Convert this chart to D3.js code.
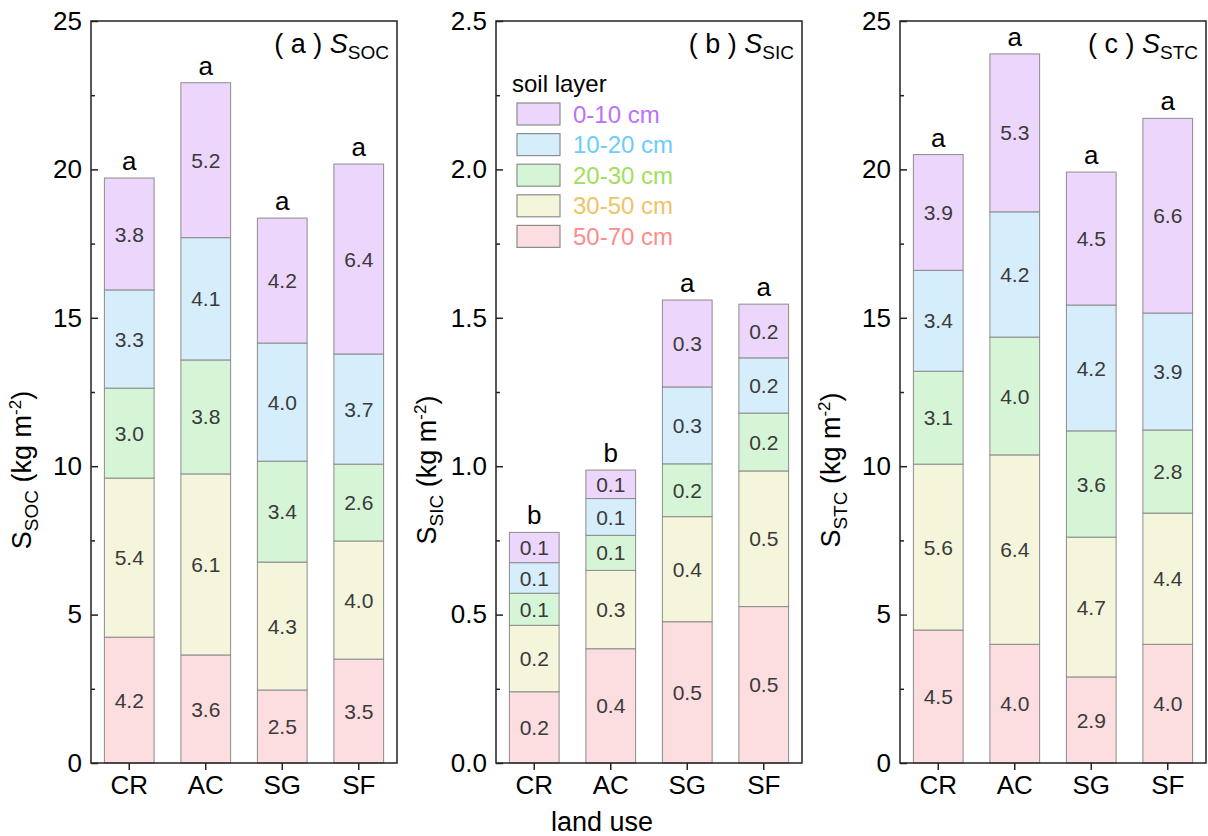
<!DOCTYPE html>
<html><head><meta charset="utf-8">
<script src="https://cdn.jsdelivr.net/npm/d3@7"></script>
<style>body{margin:0;background:#fff}svg{display:block;font-family:"Liberation Sans",Arial,sans-serif}</style>
</head><body><svg id="c" width="1208" height="836"></svg>
<script>
const categories = ["CR","AC","SG","SF"];
const layerNames = ["50-70 cm","30-50 cm","20-30 cm","10-20 cm","0-10 cm"];
const layerFill = ["#fcdde0","#f5f5dc","#d6f5d6","#d6edfc","#ecd6fc"];
const layerText = ["#ff8c8c","#f0c266","#a0e05a","#6cccff","#bb70ff"];
// values per layer (bottom to top), each for CR, AC, SG, SF
const socLayers = [
  [4.24,3.64,2.46,3.50],
  [5.36,6.10,4.31,3.98],
  [3.03,3.84,3.40,2.59],
  [3.31,4.12,3.98,3.71],
  [3.77,5.22,4.21,6.40]];
const sicLayers = [
  [0.240,0.385,0.476,0.527],
  [0.224,0.264,0.354,0.457],
  [0.108,0.118,0.178,0.195],
  [0.103,0.124,0.259,0.186],
  [0.102,0.096,0.293,0.181]];
const stcLayers = [
  [4.48,4.00,2.90,4.00],
  [5.59,6.38,4.71,4.42],
  [3.13,3.97,3.58,2.80],
  [3.40,4.22,4.24,3.94],
  [3.90,5.32,4.48,6.56]];
const socLetters = ["a","a","a","a"];
const sicLetters = ["b","b","a","a"];
const stcLetters = ["a","a","a","a"];
const socTicks = [0,5,10,15,20,25];
const sicTicks = [0,0.5,1.0,1.5,2.0,2.5];
const stcTicks = [0,5,10,15,20,25];

const svg = d3.select("#c");
const Y0 = 21, Y1 = 763;
const FF = "Liberation Sans, Arial, sans-serif";

const panels = [
  {x0:91, x1:397, layers:socLayers, letters:socLetters, ticks:socTicks, max:25, fmt:d3.format("d"), tag:"a", sub:"SOC"},
  {x0:496, x1:802, layers:sicLayers, letters:sicLetters, ticks:sicTicks, max:2.5, fmt:d3.format(".1f"), tag:"b", sub:"SIC"},
  {x0:900, x1:1206, layers:stcLayers, letters:stcLetters, ticks:stcTicks, max:25, fmt:d3.format("d"), tag:"c", sub:"STC"}
];

panels.forEach((p,pi)=>{
  const x = d3.scaleBand().domain(categories).range([p.x0,p.x1]).paddingInner(0.35).paddingOuter(0.175);
  const y = d3.scaleLinear().domain([0,p.max]).range([Y1,Y0]);
  const g = svg.append("g");
  const rows = categories.map((c,i)=>{const o={cat:c}; layerNames.forEach((l,j)=>o[l]=p.layers[j][i]); return o;});
  const stack = d3.stack().keys(layerNames)(rows);
  stack.forEach((s,j)=>{
    const lg = g.append("g");
    lg.selectAll("rect").data(s).join("rect")
      .attr("x",d=>x(d.data.cat)).attr("width",x.bandwidth())
      .attr("y",d=>y(d[1])).attr("height",d=>y(d[0])-y(d[1]))
      .attr("fill",layerFill[j]).attr("stroke","#8c8c8c").attr("stroke-width",1);
    lg.selectAll("text").data(s).join("text")
      .attr("x",d=>x(d.data.cat)+x.bandwidth()/2)
      .attr("y",d=>(y(d[0])+y(d[1]))/2)
      .attr("dy","0.36em").attr("text-anchor","middle")
      .attr("font-size",21).attr("fill","#3a3a3a")
      .text(d=>d3.format(".1f")(d[1]-d[0]));
  });
  const tops = stack[stack.length-1];
  g.selectAll("text.let").data(tops).join("text").attr("class","let")
    .attr("x",d=>x(d.data.cat)+x.bandwidth()/2).attr("y",d=>y(d[1])-8)
    .attr("text-anchor","middle").attr("font-size",26).attr("fill","#000")
    .text((d,i)=>p.letters[i]);

  // frame
  svg.append("rect").attr("x",p.x0).attr("y",Y0).attr("width",p.x1-p.x0).attr("height",Y1-Y0)
    .attr("fill","none").attr("stroke","#222").attr("stroke-width",1.5);
  // y axis major
  const ya = svg.append("g").attr("transform",`translate(${p.x0},0)`)
    .call(d3.axisLeft(y).tickValues(p.ticks).tickFormat(p.fmt).tickSize(-7).tickSizeOuter(0).tickPadding(9));
  ya.select(".domain").remove();
  ya.selectAll("text").attr("font-size",26).attr("fill","#000").attr("font-family",FF);
  ya.selectAll("line").attr("stroke","#222").attr("stroke-width",1.5);
  const minor = p.ticks.slice(0,-1).map((t,i)=>(t+p.ticks[i+1])/2);
  const ym = svg.append("g").attr("transform",`translate(${p.x0},0)`)
    .call(d3.axisLeft(y).tickValues(minor).tickFormat("").tickSize(-4).tickSizeOuter(0));
  ym.select(".domain").remove();
  ym.selectAll("line").attr("stroke","#222").attr("stroke-width",1.5);
  // x axis
  const xa = svg.append("g").attr("transform",`translate(0,${Y1})`)
    .call(d3.axisBottom(x).tickSize(7).tickSizeOuter(0).tickPadding(6));
  xa.select(".domain").remove();
  xa.selectAll("text").attr("font-size",26).attr("fill","#000").attr("font-family",FF);
  xa.selectAll("line").attr("stroke","#222").attr("stroke-width",1.5);

  // panel title
  const t = svg.append("text").attr("x",p.x1-8).attr("y",53).attr("text-anchor","end").attr("font-size",27).attr("fill","#000");
  t.append("tspan").text(`( ${p.tag} ) `);
  t.append("tspan").attr("font-style","italic").text("S");
  t.append("tspan").attr("font-size",19).attr("dy",6).text(p.sub);

  // y label
  const lx = p.x0 - 60, ly = 470;
  const yl = svg.append("text").attr("transform",`translate(${lx},${ly}) rotate(-90)`)
    .attr("text-anchor","middle").attr("font-size",27).attr("fill","#000");
  yl.append("tspan").text("S");
  yl.append("tspan").attr("font-size",19).attr("dy",7).text(p.sub);
  yl.append("tspan").attr("dy",-7).text(" (kg m");
  yl.append("tspan").attr("font-size",17).attr("dy",-10).text("-2");
  yl.append("tspan").attr("dy",10).text(")");
});

// x label
svg.append("text").attr("x",602).attr("y",831).attr("text-anchor","middle").attr("font-size",27).attr("fill","#000").text("land use");

// legend
const lgX = 517, lgY = 103;
const leg = svg.append("g");
leg.append("text").attr("x",lgX-5).attr("y",92).attr("font-size",24).attr("fill","#000").text("soil layer");
const legOrder = d3.range(layerNames.length).reverse();
legOrder.forEach((j,k)=>{
  leg.append("rect").attr("x",lgX).attr("y",lgY+k*30.6).attr("width",43).attr("height",22)
    .attr("fill",layerFill[j]).attr("stroke","#8c8c8c").attr("stroke-width",1.2);
  leg.append("text").attr("x",lgX+56).attr("y",lgY+k*30.6+11).attr("dy","0.36em")
    .attr("font-size",24).attr("fill",layerText[j]).text(layerNames[j]);
});
</script></body></html>
